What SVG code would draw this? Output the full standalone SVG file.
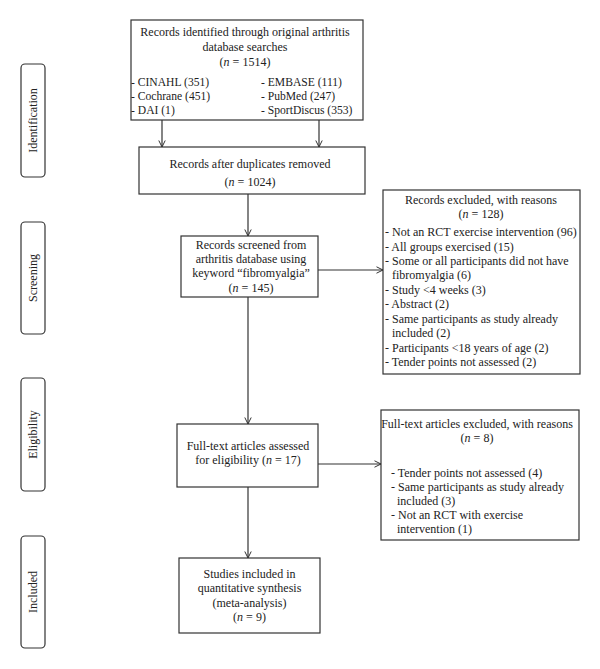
<svg xmlns="http://www.w3.org/2000/svg" width="600" height="669" viewBox="0 0 600 669">
<style>
text{font-family:"Liberation Serif","Times New Roman",serif;font-size:12px;fill:#222}
.c{text-anchor:middle}
.s{font-size:11.6px}
.box{fill:#fff;stroke:#333;stroke-width:1.2}
.side{fill:#fff;stroke:#333;stroke-width:1.2}
.ln{fill:none;stroke:#333;stroke-width:1.2}
.i{font-style:italic}
</style>
<defs>
<marker id="ah" viewBox="0 0 8 8" refX="7.5" refY="4" markerWidth="8" markerHeight="8" markerUnits="userSpaceOnUse" orient="auto">
<path d="M1,0.8 L7.5,4 L1,7.2" fill="none" stroke="#333" stroke-width="1"/>
</marker>
</defs>
<rect width="600" height="669" fill="#fff"/>

<g id="connectors">
<line class="ln" x1="162" y1="120" x2="162" y2="147" marker-end="url(#ah)"/>
<line class="ln" x1="319" y1="120" x2="319" y2="147" marker-end="url(#ah)"/>
<line class="ln" x1="248" y1="194" x2="248" y2="236" marker-end="url(#ah)"/>
<line class="ln" x1="318" y1="270" x2="383" y2="270" marker-end="url(#ah)"/>
<line class="ln" x1="248" y1="297" x2="248" y2="424" marker-end="url(#ah)"/>
<line class="ln" x1="318" y1="464" x2="381" y2="464" marker-end="url(#ah)"/>
<line class="ln" x1="248" y1="487" x2="248" y2="558" marker-end="url(#ah)"/>
</g>

<g id="stage-identification">
<rect class="side" x="21" y="64" width="24" height="113" rx="4"/>
<text class="c" transform="translate(37,120.5) rotate(-90)">Identification</text>
</g>
<g id="stage-screening">
<rect class="side" x="21" y="222" width="24" height="112" rx="4"/>
<text class="c" transform="translate(37,278) rotate(-90)">Screening</text>
</g>
<g id="stage-eligibility">
<rect class="side" x="21" y="378" width="24" height="113" rx="4"/>
<text class="c" transform="translate(37,434.5) rotate(-90)">Eligibility</text>
</g>
<g id="stage-included">
<rect class="side" x="21" y="536" width="24" height="112" rx="4"/>
<text class="c" transform="translate(37,592) rotate(-90)">Included</text>
</g>

<g id="identified">
<rect class="box" x="131" y="20" width="232" height="100"/>
<text class="c" x="245" y="36">Records identified through original arthritis</text>
<text class="c" x="245" y="51">database searches</text>
<text class="c" x="245" y="66">(<tspan class="i">n</tspan> = 1514)</text>
<text class="s" x="131" y="86">- CINAHL (351)</text>
<text class="s" x="131" y="100">- Cochrane (451)</text>
<text class="s" x="131" y="114">- DAI (1)</text>
<text class="s" x="261" y="86">- EMBASE (111)</text>
<text class="s" x="261" y="100">- PubMed (247)</text>
<text class="s" x="261" y="114">- SportDiscus (353)</text>
</g>

<g id="dedup">
<rect class="box" x="139" y="147" width="226" height="47"/>
<text class="c" x="250" y="168">Records after duplicates removed</text>
<text class="c" x="250" y="186">(<tspan class="i">n</tspan> = 1024)</text>
</g>

<g id="screened">
<rect class="box" x="181" y="236" width="137" height="61"/>
<text class="c" x="251" y="249">Records screened from</text>
<text class="c" x="251" y="263">arthritis database using</text>
<text class="c" x="251" y="277">keyword “fibromyalgia”</text>
<text class="c" x="251" y="292">(<tspan class="i">n</tspan> = 145)</text>
</g>

<g id="excluded1">
<rect class="box" x="383" y="190" width="197" height="184"/>
<text class="c" x="481" y="204">Records excluded, with reasons</text>
<text class="c" x="481" y="218">(<tspan class="i">n</tspan> = 128)</text>
<text x="385" y="236">- Not an RCT exercise intervention (96)</text>
<text x="385" y="250.5">- All groups exercised (15)</text>
<text x="385" y="265">- Some or all participants did not have</text>
<text x="392" y="279">fibromyalgia (6)</text>
<text x="385" y="294">- Study &lt;4 weeks (3)</text>
<text x="385" y="308">- Abstract (2)</text>
<text x="385" y="323">- Same participants as study already</text>
<text x="392" y="337">included (2)</text>
<text x="385" y="352">- Participants &lt;18 years of age (2)</text>
<text x="385" y="366">- Tender points not assessed (2)</text>
</g>

<g id="fulltext">
<rect class="box" x="177" y="424" width="141" height="63"/>
<text class="c" x="248" y="450">Full-text articles assessed</text>
<text class="c" x="248" y="464">for eligibility (<tspan class="i">n</tspan> = 17)</text>
</g>

<g id="excluded2">
<rect class="box" x="381" y="410" width="198" height="130"/>
<text class="c" x="477" y="428">Full-text articles excluded, with reasons</text>
<text class="c" x="477" y="442">(<tspan class="i">n</tspan> = 8)</text>
<text x="391" y="477">- Tender points not assessed (4)</text>
<text x="391" y="491">- Same participants as study already</text>
<text x="397" y="505">included (3)</text>
<text x="391" y="519">- Not an RCT with exercise</text>
<text x="397" y="533">intervention (1)</text>
</g>

<g id="included">
<rect class="box" x="179" y="558" width="141" height="75"/>
<text class="c" x="249.5" y="578">Studies included in</text>
<text class="c" x="249.5" y="592">quantitative synthesis</text>
<text class="c" x="249.5" y="607">(meta-analysis)</text>
<text class="c" x="249.5" y="621">(<tspan class="i">n</tspan> = 9)</text>
</g>
</svg>
